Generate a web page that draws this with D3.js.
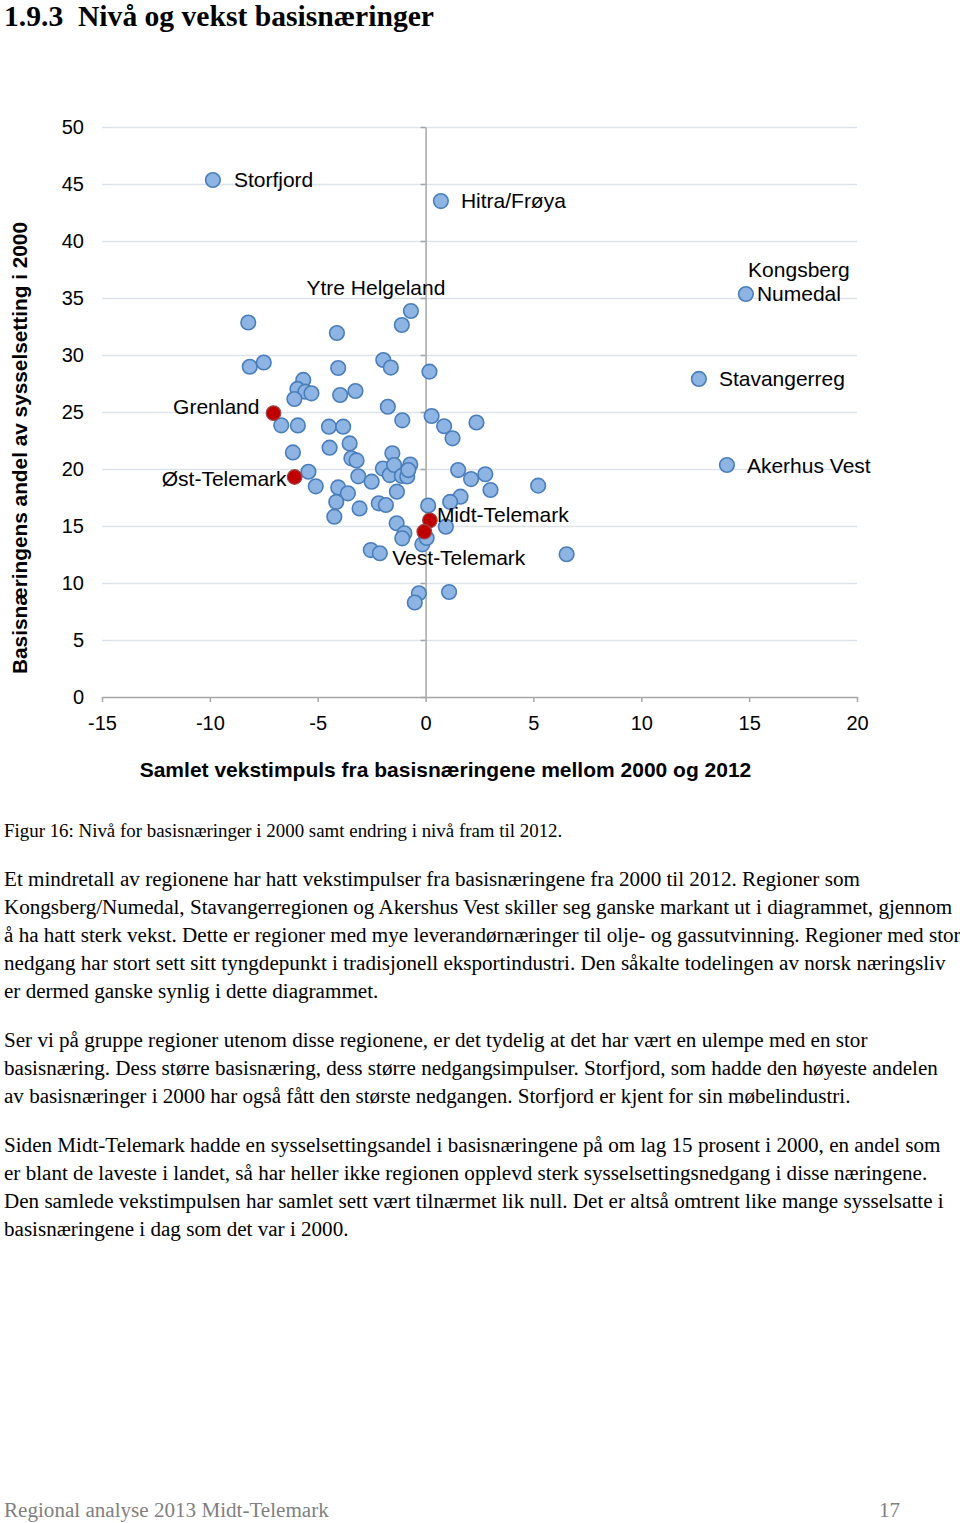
<!DOCTYPE html>
<html>
<head>
<meta charset="utf-8">
<script src="https://cdn.jsdelivr.net/npm/d3@7"></script>
<style>
  html, body { margin: 0; padding: 0; background: #fff; }
  svg { display: block; }
</style>
</head>
<body>
<svg id="page" width="960" height="1523"></svg>
<script>
// ---------------- DATA ----------------
const xTicks = [-15, -10, -5, 0, 5, 10, 15, 20];
const yTicks = [0, 5, 10, 15, 20, 25, 30, 35, 40, 45, 50];

// Unlabelled regions: [vekstimpuls, andel 2000]
const otherX = [-8.22,-4.11,-0.68,-1.10,-8.15,-7.50,-4.05,-5.67,-5.94,-5.57,-5.29,-6.08,-3.96,-3.25,-1.96,-1.61,0.18,-1.75,-1.08,0.28,0.86,1.25,2.36,-6.69,-5.92,-4.48,-3.82,-4.45,-3.52,-6.15,-3.44,-3.20,-1.54,-1.98,-1.66,-1.46,-1.10,-0.85,-0.71,-0.80,-3.12,-5.43,-5.09,-4.05,-3.60,-2.50,-4.14,-4.23,-3.06,-2.17,-1.84,-1.33,1.51,2.11,2.77,3.01,5.22,1.62,1.14,0.12,0.94,-1.34,-0.98,-1.08,-0.15,0.05,-2.54,-2.12,6.54,-0.31,-0.50,1.09];
const otherY = [32.85,31.93,33.86,32.63,28.97,29.34,28.86,27.81,27.02,26.78,26.64,26.14,26.49,26.84,29.56,28.90,28.54,25.46,24.27,24.65,23.75,22.69,24.08,23.83,23.82,23.71,23.71,21.87,22.24,21.45,20.94,20.75,21.38,20.04,19.47,20.35,19.39,19.34,20.39,19.91,19.36,19.76,18.48,18.38,17.87,18.89,17.11,15.82,16.54,16.99,16.84,18.01,19.91,19.12,19.54,18.16,18.54,17.57,17.11,16.80,14.94,15.24,14.36,13.92,13.39,13.95,12.89,12.61,12.52,9.10,8.29,9.21];

// Labelled blue regions
const namedNames = ["Storfjord", "Hitra/Frøya", "Ytre Helgeland", "Kongsberg\nNumedal", "Stavangerreg", "Akerhus Vest"];
const namedX = [-9.86, 0.71, -0.68, 14.85, 12.67, 13.97];
const namedY = [45.35, 43.5, 33.86, 35.35, 27.9, 20.35];
const namedShowPoint = [true, true, false, true, true, true]; // Ytre Helgeland point already in otherX/Y

// Telemark regions (red)
const telNames = ["Grenland", "Øst-Telemark", "Midt-Telemark", "Vest-Telemark"];
const telX = [-7.05, -6.07, 0.2, -0.06];
const telY = [24.9, 19.3, 15.5, 14.5];

const title = "1.9.3  Nivå og vekst basisnæringer";
const yTitle = "Basisnæringens andel av sysselsetting i 2000";
const xTitle = "Samlet vekstimpuls fra basisnæringene mellom 2000 og 2012";
const caption = "Figur 16: Nivå for basisnæringer i 2000 samt endring i nivå fram til 2012.";
const para1 = [
  "Et mindretall av regionene har hatt vekstimpulser fra basisnæringene fra 2000 til 2012. Regioner som",
  "Kongsberg/Numedal, Stavangerregionen og Akershus Vest skiller seg ganske markant ut i diagrammet, gjennom",
  "å ha hatt sterk vekst. Dette er regioner med mye leverandørnæringer til olje- og gassutvinning. Regioner med stor",
  "nedgang har stort sett sitt tyngdepunkt i tradisjonell eksportindustri. Den såkalte todelingen av norsk næringsliv",
  "er dermed ganske synlig i dette diagrammet."
];
const para2 = [
  "Ser vi på gruppe regioner utenom disse regionene, er det tydelig at det har vært en ulempe med en stor",
  "basisnæring. Dess større basisnæring, dess større nedgangsimpulser. Storfjord, som hadde den høyeste andelen",
  "av basisnæringer i 2000 har også fått den største nedgangen. Storfjord er kjent for sin møbelindustri."
];
const para3 = [
  "Siden Midt-Telemark hadde en sysselsettingsandel i basisnæringene på om lag 15 prosent i 2000, en andel som",
  "er blant de laveste i landet, så har heller ikke regionen opplevd sterk sysselsettingsnedgang i disse næringene.",
  "Den samlede vekstimpulsen har samlet sett vært tilnærmet lik null. Det er altså omtrent like mange sysselsatte i",
  "basisnæringene i dag som det var i 2000."
];
const footerLeft = "Regional analyse 2013 Midt-Telemark";
const footerRight = "17";

// ---------------- STYLE / LAYOUT ----------------
const plot = { left: 102, right: 857, top: 127, bottom: 697 };
// label offsets in px relative to the point (annotation styling)
const namedOffsets = [
  { dx: 21, dy: 7, anchor: "start" },
  { dx: 20, dy: 7, anchor: "start" },
  { dx: -35, dy: -16, anchor: "middle" },
  { dx: 53, dy: -17, anchor: "middle", lh: 24 },
  { dx: 20, dy: 7, anchor: "start" },
  { dx: 20, dy: 8, anchor: "start" }
];
const telOffsets = [
  { dx: -14, dy: 1, anchor: "end" },
  { dx: -8, dy: 9, anchor: "end" },
  { dx: 7, dy: 2, anchor: "start" },
  { dx: -32, dy: 33, anchor: "start" }
];

const sans = "Arial, 'Liberation Sans', Helvetica, sans-serif";
const serif = "'Times New Roman', 'Liberation Serif', serif";

const svg = d3.select("#page");

const x = d3.scaleLinear().domain([-15, 20]).range([plot.left, plot.right]);
const y = d3.scaleLinear().domain([0, 50]).range([plot.bottom, plot.top]);
const fmt = d => String(d);

// Title
svg.append("text").attr("x", 4).attr("y", 26)
  .attr("font-family", serif).attr("font-weight", "bold").attr("font-size", 29.6)
  .attr("fill", "#000").style("white-space", "pre").text(title);

// Gridlines
const grid = svg.append("g").attr("transform", `translate(${plot.left},0)`)
  .call(d3.axisLeft(y).tickValues(yTicks.filter(v => v > 0)).tickSize(-(plot.right - plot.left)).tickFormat(""));
grid.select(".domain").remove();
grid.selectAll(".tick line").attr("stroke", "#dde3ea").attr("stroke-width", 1.5);

// Y tick labels (left)
const yLab = svg.append("g").attr("transform", `translate(${plot.left},0)`)
  .call(d3.axisLeft(y).tickValues(yTicks).tickSize(0).tickPadding(18).tickFormat(fmt));
yLab.select(".domain").remove();
yLab.selectAll("text").attr("font-family", sans).attr("font-size", 20).attr("fill", "#000");

// Vertical axis at x = 0
const vAxis = svg.append("g").attr("transform", `translate(${x(0)},0)`)
  .call(d3.axisLeft(y).tickValues(yTicks).tickSize(5).tickSizeOuter(0).tickFormat(""));
vAxis.select(".domain").attr("stroke", "#a6a6a6").attr("stroke-width", 1.5);
vAxis.selectAll(".tick line").attr("stroke", "#a6a6a6").attr("stroke-width", 1.5);

// X axis
const xAxis = svg.append("g").attr("transform", `translate(0,${plot.bottom})`)
  .call(d3.axisBottom(x).tickValues(xTicks).tickSize(5).tickSizeOuter(0).tickPadding(14).tickFormat(fmt));
xAxis.select(".domain").attr("stroke", "#a6a6a6").attr("stroke-width", 1.5);
xAxis.selectAll(".tick line").attr("stroke", "#a6a6a6").attr("stroke-width", 1.5);
xAxis.selectAll("text").attr("font-family", sans).attr("font-size", 20).attr("fill", "#000");

// Axis titles
svg.append("text").attr("transform", "translate(27,448) rotate(-90)")
  .attr("text-anchor", "middle").attr("font-family", sans).attr("font-weight", "bold")
  .attr("font-size", 20.8).attr("fill", "#000").text(yTitle);
svg.append("text").attr("x", 445.5).attr("y", 777)
  .attr("text-anchor", "middle").attr("font-family", sans).attr("font-weight", "bold")
  .attr("font-size", 21).attr("fill", "#000").text(xTitle);

// Points
const R = 7.3;
const others = otherX.map((v, i) => ({ x: v, y: otherY[i] }));
const named = namedNames.map((n, i) => ({ name: n, x: namedX[i], y: namedY[i], show: namedShowPoint[i], off: namedOffsets[i] }));
const tel = telNames.map((n, i) => ({ name: n, x: telX[i], y: telY[i], off: telOffsets[i] }));

const pts = svg.append("g");
pts.selectAll("circle.o").data(others.concat(named.filter(d => d.show))).join("circle")
  .attr("class", "o")
  .attr("cx", d => x(d.x)).attr("cy", d => y(d.y)).attr("r", R)
  .attr("fill", "#8db4e2").attr("stroke", "#4a7ebb").attr("stroke-width", 1.6);
pts.selectAll("circle.t").data(tel).join("circle")
  .attr("class", "t")
  .attr("cx", d => x(d.x)).attr("cy", d => y(d.y)).attr("r", R)
  .attr("fill", "#c00000").attr("stroke", "#9a4a4a").attr("stroke-width", 1.2);

// Labels
const labG = svg.append("g").attr("font-family", sans).attr("font-size", 21).attr("fill", "#000");
named.concat(tel).forEach(d => {
  const lines = d.name.split("\n");
  const t = labG.append("text")
    .attr("x", x(d.x) + d.off.dx).attr("y", y(d.y) + d.off.dy)
    .attr("text-anchor", d.off.anchor);
  lines.forEach((ln, k) => {
    t.append("tspan").attr("x", x(d.x) + d.off.dx).attr("dy", k === 0 ? 0 : (d.off.lh || 24)).text(ln);
  });
});

// Body text
const bodyG = svg.append("g").attr("font-family", serif).attr("fill", "#000");
bodyG.append("text").attr("x", 4).attr("y", 837).attr("font-size", 18.9).text(caption);
function para(lines, y0, size) {
  lines.forEach((ln, i) => {
    bodyG.append("text").attr("x", 4).attr("y", y0 + i * 28).attr("font-size", size).text(ln);
  });
}
para(para1, 886, 21.1);
para(para2, 1047, 21.1);
para(para3, 1152, 21.1);

svg.append("text").attr("x", 4).attr("y", 1517).attr("font-family", serif)
  .attr("font-size", 21.1).attr("fill", "#7f7f7f").text(footerLeft);
svg.append("text").attr("x", 900).attr("y", 1517).attr("text-anchor", "end").attr("font-family", serif)
  .attr("font-size", 21.1).attr("fill", "#7f7f7f").text(footerRight);
</script>
</body>
</html>
